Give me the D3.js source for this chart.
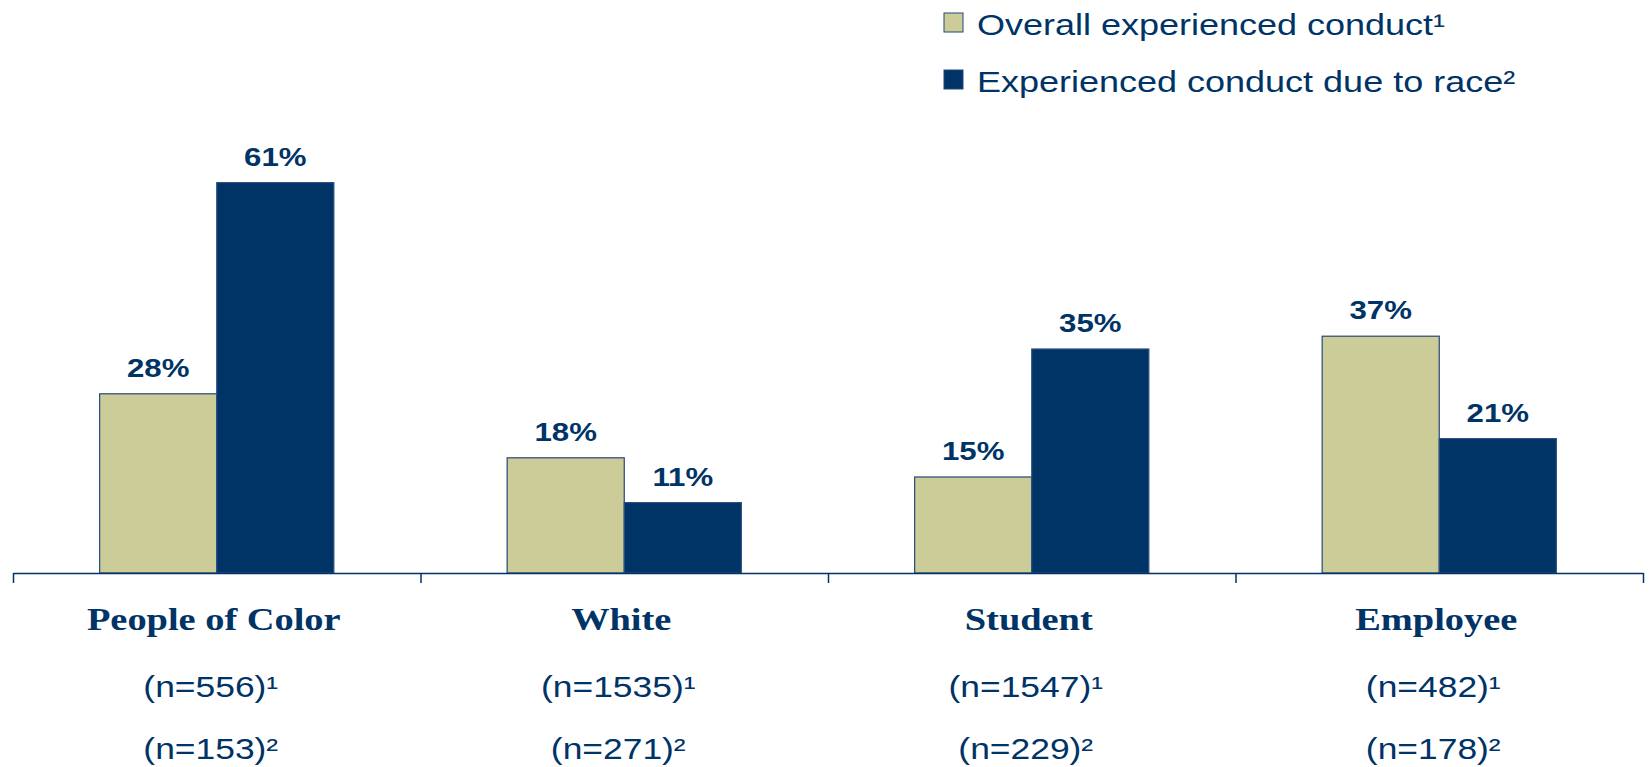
<!DOCTYPE html>
<html>
<head>
<meta charset="utf-8">
<script src="https://cdn.jsdelivr.net/npm/d3@7"></script>
<style>
  body { margin: 0; background: #fff; }
  svg { display: block; }
</style>
</head>
<body>
<script>
// data
var categories = ["People of Color", "White", "Student", "Employee"];
var series = ["Overall experienced conduct\u00B9", "Experienced conduct due to race\u00B2"];
var overall = [28, 18, 15, 37];
var dueToRace = [61, 11, 35, 21];
var n1 = ["(n=556)\u00B9", "(n=1535)\u00B9", "(n=1547)\u00B9", "(n=482)\u00B9"];
var n2 = ["(n=153)\u00B2", "(n=271)\u00B2", "(n=229)\u00B2", "(n=178)\u00B2"];

var colors = ["#CCCC99", "#003366"];
var navy = "#003366";
var stretch = 1.2; // text in the original is wide

var width = 1650, height = 767;
var baseY = 573;

var svg = d3.select("body").append("svg")
    .attr("width", width)
    .attr("height", height);

var x0 = d3.scaleBand()
    .domain(categories)
    .range([13, 1643]);

var x1 = d3.scaleBand()
    .domain([0, 1])
    .range([0, x0.bandwidth()])
    .paddingOuter(0.74);

var y = d3.scaleLinear()
    .domain([0, 70])
    .range([baseY, baseY - 448]);

var rows = categories.map(function (c, i) {
    return { cat: c, vals: [overall[i], dueToRace[i]] };
});

// bars
var groups = svg.selectAll(".grp")
    .data(rows)
    .enter().append("g")
    .attr("class", "grp")
    .attr("transform", function (d) { return "translate(" + x0(d.cat) + ",0)"; });

groups.selectAll("rect")
    .data(function (d) { return d.vals.map(function (v, k) { return { k: k, v: v }; }); })
    .enter().append("rect")
    .attr("x", function (d) { return x1(d.k); })
    .attr("y", function (d) { return y(d.v); })
    .attr("width", x1.bandwidth())
    .attr("height", function (d) { return baseY - y(d.v); })
    .style("fill", function (d) { return colors[d.k]; })
    .style("stroke", function (d) { return d.k == 0 ? "#24477a" : "#2c4f80"; })
    .style("stroke-width", 1.2);

groups.selectAll(".val")
    .data(function (d) { return d.vals.map(function (v, k) { return { k: k, v: v }; }); })
    .enter().append("text")
    .attr("class", "val")
    .attr("transform", function (d) {
        return "translate(" + (x1(d.k) + x1.bandwidth() / 2) + "," + (y(d.v) - 17) + ") scale(" + stretch + ",1)";
    })
    .attr("text-anchor", "middle")
    .style("font-family", "'Liberation Sans', Arial, sans-serif")
    .style("font-weight", "bold")
    .style("font-size", "26px")
    .style("fill", navy)
    .text(function (d) { return d.v + "%"; });

// x axis, ticks between categories
var xb = d3.scaleLinear().domain([0, categories.length]).range([13, 1643]);
var xAxis = d3.axisBottom(xb)
    .ticks(categories.length)
    .tickFormat("")
    .tickSizeInner(10)
    .tickSizeOuter(0);

var ax = svg.append("g")
    .attr("class", "x axis")
    .attr("transform", "translate(0," + baseY + ")")
    .call(xAxis);
ax.select(".domain").attr("stroke", navy).attr("stroke-width", 1.5);
ax.selectAll(".tick line").attr("stroke", navy).attr("stroke-width", 1.5);

// category labels
var labels = svg.selectAll(".cat")
    .data(rows)
    .enter().append("g")
    .attr("class", "cat")
    .attr("transform", function (d) { return "translate(" + (x0(d.cat) + x0.bandwidth() / 2) + ",0)"; });

labels.append("text")
    .attr("transform", "translate(-3,630) scale(" + stretch + ",1)")
    .attr("text-anchor", "middle")
    .style("font-family", "'Liberation Serif', 'Times New Roman', serif")
    .style("font-weight", "bold")
    .style("font-size", "32px")
    .style("fill", navy)
    .text(function (d) { return d.cat; });

labels.append("text")
    .attr("transform", "translate(-6,697) scale(" + stretch + ",1)")
    .attr("text-anchor", "middle")
    .style("font-family", "'Liberation Sans', Arial, sans-serif")
    .style("font-size", "29.5px")
    .style("fill", navy)
    .text(function (d, i) { return n1[i]; });

labels.append("text")
    .attr("transform", "translate(-6,759) scale(" + stretch + ",1)")
    .attr("text-anchor", "middle")
    .style("font-family", "'Liberation Sans', Arial, sans-serif")
    .style("font-size", "29.5px")
    .style("fill", navy)
    .text(function (d, i) { return n2[i]; });

// legend
var legend = svg.selectAll(".legend")
    .data(series)
    .enter().append("g")
    .attr("class", "legend")
    .attr("transform", function (d, i) { return "translate(944," + (13 + i * 57) + ")"; });

legend.append("rect")
    .attr("width", 19)
    .attr("height", 19)
    .style("fill", function (d, i) { return colors[i]; })
    .style("stroke", "#24477a")
    .style("stroke-width", 1);

legend.append("text")
    .attr("transform", "translate(33,22) scale(" + stretch + ",1)")
    .style("font-family", "'Liberation Sans', Arial, sans-serif")
    .style("font-size", "30px")
    .style("fill", navy)
    .text(function (d) { return d; });
</script>
</body>
</html>
